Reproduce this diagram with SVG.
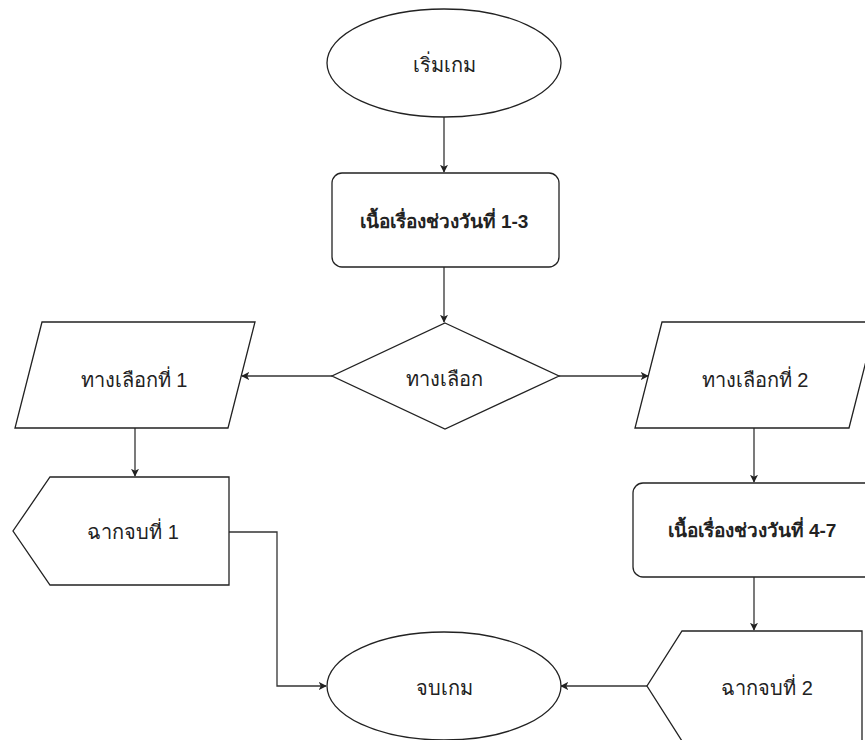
<svg xmlns="http://www.w3.org/2000/svg" width="865" height="740" viewBox="0 0 865 740">
<defs>
<marker id="arr" viewBox="0 0 10 10" refX="9" refY="5" markerWidth="8" markerHeight="8" markerUnits="userSpaceOnUse" orient="auto">
<path d="M0,0 L10,5 L0,10 L2.5,5 Z" fill="#222"/>
</marker>
<style>
.s{fill:#fff;stroke:#222;stroke-width:1.3}
.c{fill:none;stroke:#333;stroke-width:1.3;marker-end:url(#arr)}
.t{font-family:"Liberation Sans","Noto Sans","DejaVu Sans",sans-serif;font-size:20px;fill:#222;text-anchor:middle}
.b{font-weight:bold;font-size:19px}
</style>
</defs>
<rect width="865" height="740" fill="#fff"/>
<g id="connectors">
<path class="c" d="M444,117 L444,172"/>
<path class="c" d="M444,267 L444,322"/>
<path class="c" d="M332,376 L242,376"/>
<path class="c" d="M559,376 L648,376"/>
<path class="c" d="M135,428 L135,476"/>
<path class="c" d="M754,428 L754,482"/>
<path class="c" d="M754,577 L754,630"/>
<path class="c" d="M229,532 L277,532 L277,686 L326,686"/>
<path class="c" d="M647,686 L561,686"/>
</g>
<g id="start">
<ellipse class="s" cx="444" cy="63" rx="117" ry="54"/>
<text class="t" x="444" y="72">เริ่มเกม</text>
</g>
<g id="story1">
<rect class="s" x="332" y="173" width="227" height="94" rx="10"/>
<text class="t b" x="444" y="228">เนื้อเรื่องช่วงวันที่ 1-3</text>
</g>
<g id="choice">
<polygon class="s" points="445,323 559,376 445,429 332,376"/>
<text class="t" x="444" y="386">ทางเลือก</text>
</g>
<g id="option1">
<polygon class="s" points="42,322 255,322 228,428 15,428"/>
<text class="t" x="134" y="387">ทางเลือกที่ 1</text>
</g>
<g id="option2">
<polygon class="s" points="662,322 876,322 849,428 635,428"/>
<text class="t" x="755" y="387">ทางเลือกที่ 2</text>
</g>
<g id="ending1">
<polygon class="s" points="50,477 229,477 229,585 50,585 13,531"/>
<text class="t" x="133" y="539">ฉากจบที่ 1</text>
</g>
<g id="story2">
<rect class="s" x="633" y="483" width="242" height="94" rx="10"/>
<text class="t b" x="752" y="537">เนื้อเรื่องช่วงวันที่ 4-7</text>
</g>
<g id="ending2">
<polygon class="s" points="682,631 862,631 862,741 682,741 647,686"/>
<text class="t" x="767" y="695">ฉากจบที่ 2</text>
</g>
<g id="end">
<ellipse class="s" cx="444" cy="686" rx="117" ry="54"/>
<text class="t" x="444" y="695">จบเกม</text>
</g>
</svg>
